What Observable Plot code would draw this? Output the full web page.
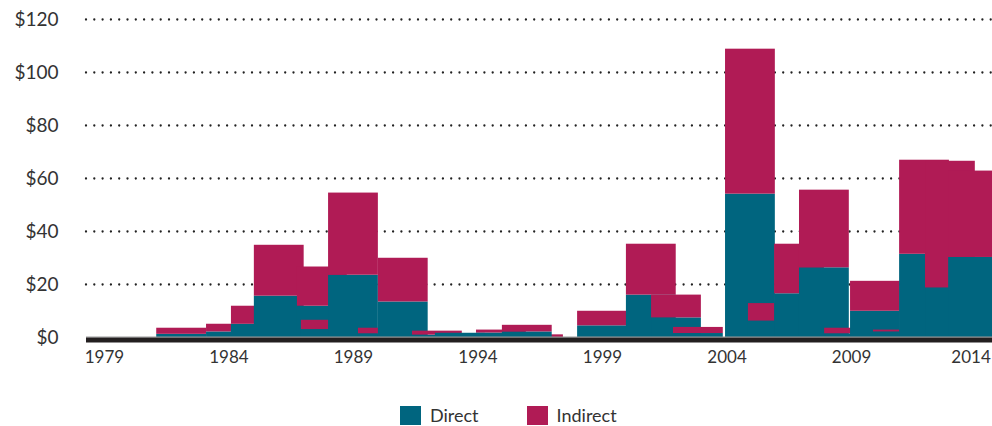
<!DOCTYPE html>
<html>
<head>
<meta charset="utf-8">
<script src="https://cdn.jsdelivr.net/npm/d3@7"></script>
<script src="https://cdn.jsdelivr.net/npm/@observablehq/plot@0.6"></script>
<style>
  html, body { margin: 0; padding: 0; background: #fff; width: 992px; height: 426px; overflow: hidden; }
  #wrap { position: relative; width: 992px; height: 426px; font-family: Lato, "Noto Sans", sans-serif; color: #333; }
  #legend { position: absolute; top: 404px; left: 400px; display: flex; align-items: center; font-size: 18px; }
  .sw { display: inline-block; width: 21px; height: 19px; margin-right: 9px; }
  .item { display: flex; align-items: center; margin-right: 48px; }
</style>
</head>
<body>
<div id="wrap">
  <div id="chart"></div>
  <div id="legend"></div>
</div>
<script>
// Series
const series = ["Direct", "Indirect"];
const colors = ["#00657F", "#B01B55"];

// Bars, in drawing order: start year of each bar, Direct and Indirect values ($)
const starts   = [1981.1, 1983.1, 1984.1, 1985.02, 1986.75, 1986.91, 1988.0, 1989.2, 1990.0, 1991.37, 1992.29, 1993.94, 1995.43, 1994.98, 1998.0, 1999.96, 2000.97, 2001.85, 2003.94, 2004.86, 2005.91, 2006.91, 2007.92, 2008.96, 2009.88, 2010.93, 2011.97, 2012.9];
const direct   = [1.2, 2.1, 5.0, 15.6, 11.8, 3.0, 23.5, 1.4, 13.4, 0.9, 1.6, 1.7, 0.0, 2.1, 4.4, 16.0, 7.4, 1.5, 54.1, 6.2, 16.5, 26.3, 1.4, 9.9, 2.1, 31.4, 18.7, 30.2];
const indirect = [2.3, 2.9, 6.8, 19.2, 14.8, 3.5, 31.0, 2.1, 16.5, 1.5, 0.0, 1.1, 1.0, 2.5, 5.5, 19.2, 8.6, 2.3, 54.7, 6.6, 18.7, 29.3, 2.1, 11.3, 0.7, 35.5, 47.8, 32.6];
const span = 2; // each bar covers two years

// Axis ticks
const xTicks = [1979, 1984, 1989, 1994, 1999, 2004, 2009, 2014];
const yTicks = [0, 20, 40, 60, 80, 100, 120];
const xDomain = [1978.28, 2014.66];
const yDomain = [0, 120];

// Build rows (stacked per bar, drawn bar by bar so later bars lie on top)
const rows = [];
starts.forEach((s, i) => {
  rows.push({x1: s, x2: s + span, y1: 0, y2: direct[i], series: series[0]});
  rows.push({x1: s, x2: s + span, y1: direct[i], y2: direct[i] + indirect[i], series: series[1]});
});

const chart = Plot.plot({
  width: 992,
  height: 372,
  marginLeft: 86,
  marginRight: 0,
  marginTop: 19,
  marginBottom: 35,
  style: {fontFamily: "Lato, 'Noto Sans', sans-serif", fontSize: "17px", color: "#333", background: "transparent", overflow: "hidden"},
  x: {domain: xDomain, ticks: xTicks, tickFormat: d => String(d), tickSize: 0, tickPadding: 13, label: null},
  y: {domain: yDomain, ticks: yTicks, tickFormat: d => "$" + d, tickSize: 0, tickPadding: 28, label: null},
  color: {domain: series, range: colors},
  marks: [
    Plot.ruleY(yTicks.filter(d => d > 0), {stroke: "#222", strokeWidth: 2.3, strokeLinecap: "round", strokeDasharray: "0,8.3"}),
    Plot.rect(rows, {x1: "x1", x2: "x2", y1: "y1", y2: "y2", fill: "series", inset: 0}),
    Plot.ruleY([0], {stroke: "#999", strokeWidth: 1, dy: -0.5}),
    Plot.ruleY([0], {stroke: "#231F20", strokeWidth: 5, dy: 2.5})
  ]
});
document.getElementById("chart").appendChild(chart);

const texts = d3.select(chart).selectAll("text");
// keep the last year label inside the frame, as in the reference
texts.filter(function() { return this.textContent === String(xTicks[xTicks.length - 1]); })
  .attr("dx", -5);
// dollar labels are set a little larger
texts.filter(function() { return this.textContent.startsWith("$"); })
  .style("font-size", "19px");

// Legend
const legend = document.getElementById("legend");
series.forEach((s, i) => {
  const item = document.createElement("div");
  item.className = "item";
  const sw = document.createElement("span");
  sw.className = "sw";
  sw.style.background = colors[i];
  const label = document.createElement("span");
  label.textContent = s;
  item.appendChild(sw);
  item.appendChild(label);
  legend.appendChild(item);
});
</script>
</body>
</html>
